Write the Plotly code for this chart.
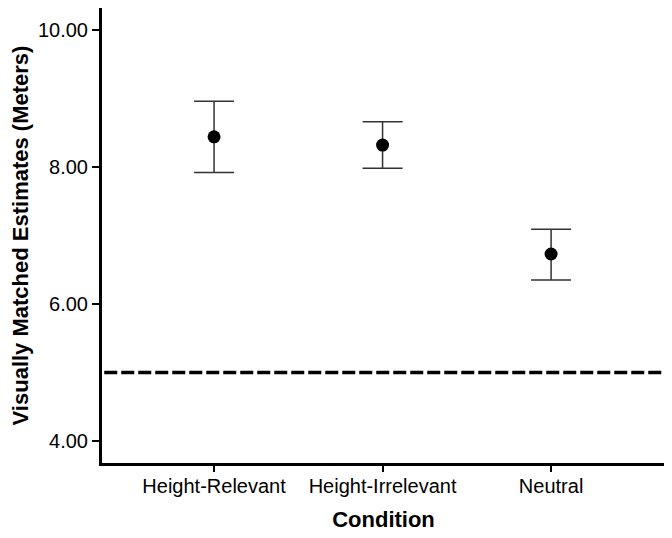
import plotly.graph_objects as go

conditions = ["Height-Relevant", "Height-Irrelevant", "Neutral"]
means = [8.44, 8.32, 6.73]
upper = [8.96, 8.66, 7.09]
lower = [7.92, 7.98, 6.35]
reference_value = 5.0
y_ticks = [4, 6, 8, 10]
y_tick_labels = ["4.00", "6.00", "8.00", "10.00"]

err_plus = [u - m for u, m in zip(upper, means)]
err_minus = [m - l for m, l in zip(means, lower)]

FONT = "Liberation Sans, Arial, sans-serif"

fig = go.Figure()
fig.add_trace(go.Scatter(
    x=conditions, y=means, mode="markers",
    marker=dict(color="black", size=13),
    error_y=dict(type="data", symmetric=False, array=err_plus, arrayminus=err_minus,
                 color="#333333", thickness=1.5, width=20),
    showlegend=False,
))

fig.add_shape(type="line", xref="paper", yref="y", x0=0.004, x1=0.995,
              y0=reference_value, y1=reference_value,
              line=dict(color="black", width=3.5, dash="13px,4px"))

# page body has an 8px margin, so the figure is sized/offset to compensate
fig.update_layout(
    width=664, height=530,
    margin=dict(l=94, r=7, t=0, b=75),
    paper_bgcolor="white", plot_bgcolor="white",
    font=dict(family=FONT, color="black", size=20),
    xaxis=dict(type="category", range=[-0.665, 2.676], automargin=False,
               showline=True, linecolor="black", linewidth=3,
               ticks="outside", ticklen=6, tickwidth=2, tickcolor="black",
               ticklabelstandoff=-3,
               showgrid=False, zeroline=False,
               tickfont=dict(size=20),
               title=dict(text="<b>Condition</b>", font=dict(size=22), standoff=16)),
    yaxis=dict(range=[3.68, 10.32], tickvals=y_ticks, ticktext=y_tick_labels, automargin=False,
               showline=True, linecolor="black", linewidth=3,
               ticks="outside", ticklen=7, tickwidth=2, tickcolor="black",
               showgrid=False, zeroline=False,
               tickfont=dict(size=20),
               title=dict(text="<b>Visually Matched Estimates (Meters)</b>", font=dict(size=22), standoff=10)),
)

fig.write_html("out.html")
